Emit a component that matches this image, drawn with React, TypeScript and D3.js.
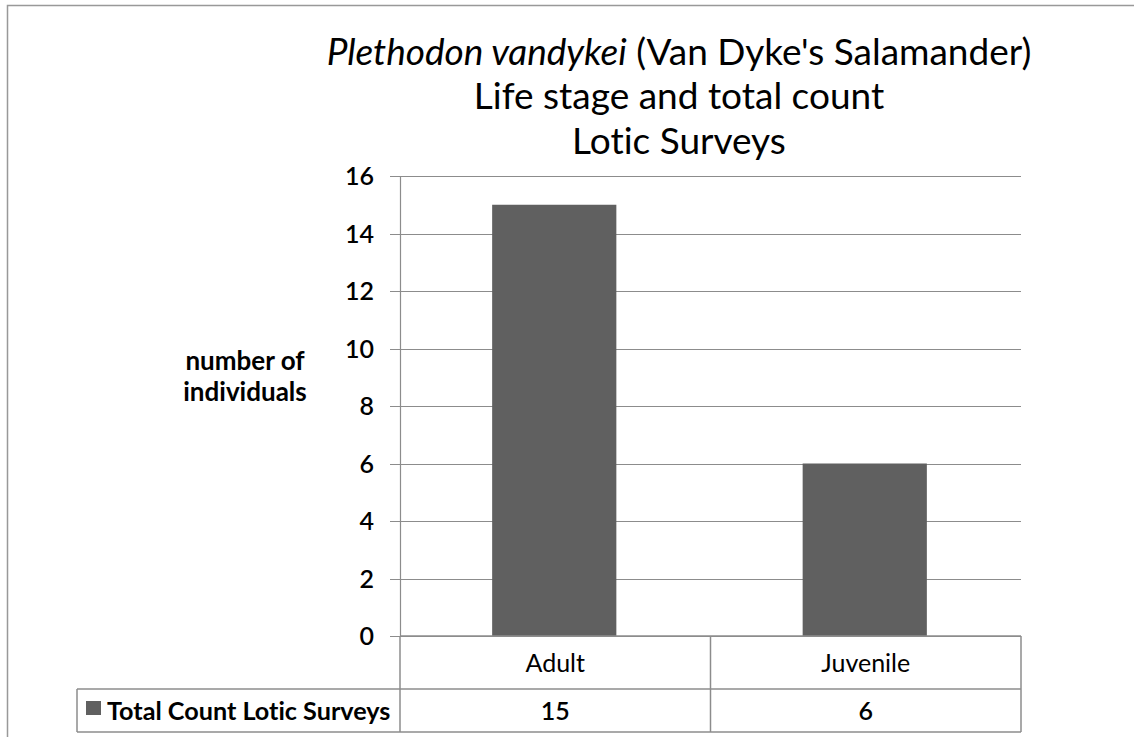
import { useEffect, useRef } from "react";
import * as d3 from "d3";

const categories = ["Adult", "Juvenile"];
const counts = [15, 6];
const seriesName = "Total Count Lotic Surveys";
const yTicks = [0, 2, 4, 6, 8, 10, 12, 14, 16];

export default function App() {
  const svgRef = useRef<SVGSVGElement>(null);

  useEffect(() => {
    if (!svgRef.current) return;
    const svg = d3.select(svgRef.current);
    svg.selectAll("*").remove();

    const width = 1134;
    const height = 737;
    const font = "Lato, 'Noto Sans', sans-serif";
    const grid = "#8c8c8c";
    const barColor = "#606060";

    svg
      .attr("width", width)
      .attr("height", height)
      .style("display", "block")
      .style("font-variant-ligatures", "none");

    // white background + outer frame
    svg.append("rect").attr("width", width).attr("height", height).attr("fill", "white");
    svg
      .append("rect")
      .attr("x", 7.5)
      .attr("y", 5.5)
      .attr("width", width + 10)
      .attr("height", height + 10)
      .attr("fill", "none")
      .attr("stroke", "#999")
      .attr("stroke-width", 1.5);

    const left = 400;
    const right = 1021;
    const top = 176;
    const bottom = 636;

    const x = d3.scaleBand().domain(categories).range([left, right]);
    const y = d3.scaleLinear().domain([0, 16]).range([bottom, top]);

    // gridlines
    svg
      .append("g")
      .selectAll("line")
      .data(yTicks)
      .join("line")
      .attr("x1", left - 10)
      .attr("x2", right)
      .attr("y1", (d) => Math.round(y(d)) + 0.5)
      .attr("y2", (d) => Math.round(y(d)) + 0.5)
      .attr("stroke", grid)
      .attr("stroke-width", 1.2);

    // y axis line
    svg
      .append("line")
      .attr("x1", left + 0.5)
      .attr("x2", left + 0.5)
      .attr("y1", top)
      .attr("y2", bottom)
      .attr("stroke", grid)
      .attr("stroke-width", 1.2);

    // tick labels
    svg
      .append("g")
      .selectAll("text")
      .data(yTicks)
      .join("text")
      .attr("x", left - 26)
      .attr("y", (d) => y(d))
      .attr("dy", "0.36em")
      .attr("text-anchor", "end")
      .attr("font-family", font)
      .attr("font-size", 25)
      .attr("font-weight", 600)
      .attr("fill", "#000")
      .text((d) => d);

    // bars
    const barW = x.bandwidth() * 0.4;
    svg
      .append("g")
      .selectAll("rect")
      .data(counts)
      .join("rect")
      .attr("x", (_, i) => x(categories[i])! + (x.bandwidth() - barW) / 2 - 1)
      .attr("y", (d) => y(d))
      .attr("width", barW)
      .attr("height", (d) => bottom - y(d))
      .attr("fill", barColor);

    // data table
    const row1 = bottom;
    const row2 = 689;
    const row3 = 732;
    const legendLeft = 77;
    const tbl = svg.append("g").attr("stroke", grid).attr("stroke-width", 1.5).attr("fill", "none");
    tbl.append("line").attr("x1", left).attr("x2", right).attr("y1", row1).attr("y2", row1);
    tbl.append("line").attr("x1", legendLeft).attr("x2", right).attr("y1", row2).attr("y2", row2);
    tbl.append("line").attr("x1", legendLeft).attr("x2", right).attr("y1", row3).attr("y2", row3);
    tbl.append("line").attr("x1", legendLeft).attr("x2", legendLeft).attr("y1", row2).attr("y2", row3);
    [left, x("Juvenile")!, right].forEach((xx) => {
      tbl.append("line").attr("x1", xx).attr("x2", xx).attr("y1", row1).attr("y2", row3);
    });

    svg
      .append("g")
      .selectAll("text")
      .data(categories)
      .join("text")
      .attr("x", (d) => x(d)! + x.bandwidth() / 2)
      .attr("y", (row1 + row2) / 2)
      .attr("dy", "0.36em")
      .attr("text-anchor", "middle")
      .attr("font-family", font)
      .attr("font-size", 25)
      .attr("fill", "#000")
      .text((d) => d);

    svg
      .append("g")
      .selectAll("text")
      .data(counts)
      .join("text")
      .attr("x", (_, i) => x(categories[i])! + x.bandwidth() / 2)
      .attr("y", (row2 + row3) / 2)
      .attr("dy", "0.36em")
      .attr("text-anchor", "middle")
      .attr("font-family", font)
      .attr("font-size", 25)
      .attr("font-weight", 600)
      .attr("fill", "#000")
      .text((d) => d);

    // legend key
    svg
      .append("rect")
      .attr("x", 86)
      .attr("y", 701)
      .attr("width", 15)
      .attr("height", 14)
      .attr("fill", barColor);
    svg
      .append("text")
      .attr("x", 107)
      .attr("y", (row2 + row3) / 2)
      .attr("dy", "0.36em")
      .attr("font-family", font)
      .attr("font-size", 25.2)
      .attr("font-weight", 700)
      .attr("fill", "#000")
      .text(seriesName);

    // y-axis title
    const yt = svg
      .append("text")
      .attr("text-anchor", "middle")
      .attr("font-family", font)
      .attr("font-size", 26)
      .attr("font-weight", 700)
      .attr("fill", "#000");
    yt.append("tspan").attr("x", 245).attr("y", 370).text("number of");
    yt.append("tspan").attr("x", 245).attr("y", 401).text("individuals");

    // chart title
    const title = svg
      .append("g")
      .attr("text-anchor", "middle")
      .attr("font-family", font)
      .attr("font-size", 37)
      .attr("fill", "#000");
    const t1 = title.append("text").attr("x", 679).attr("y", 65);
    t1.append("tspan").attr("font-style", "italic").text("Plethodon vandykei");
    t1.append("tspan").text(" (Van Dyke's Salamander)");
    title.append("text").attr("x", 679).attr("y", 109).text("Life stage and total count");
    title.append("text").attr("x", 679).attr("y", 154).text("Lotic Surveys");
  }, []);

  return (
    <div style={{ position: "absolute", left: 0, top: 0 }}>
      <svg ref={svgRef}></svg>
    </div>
  );
}
